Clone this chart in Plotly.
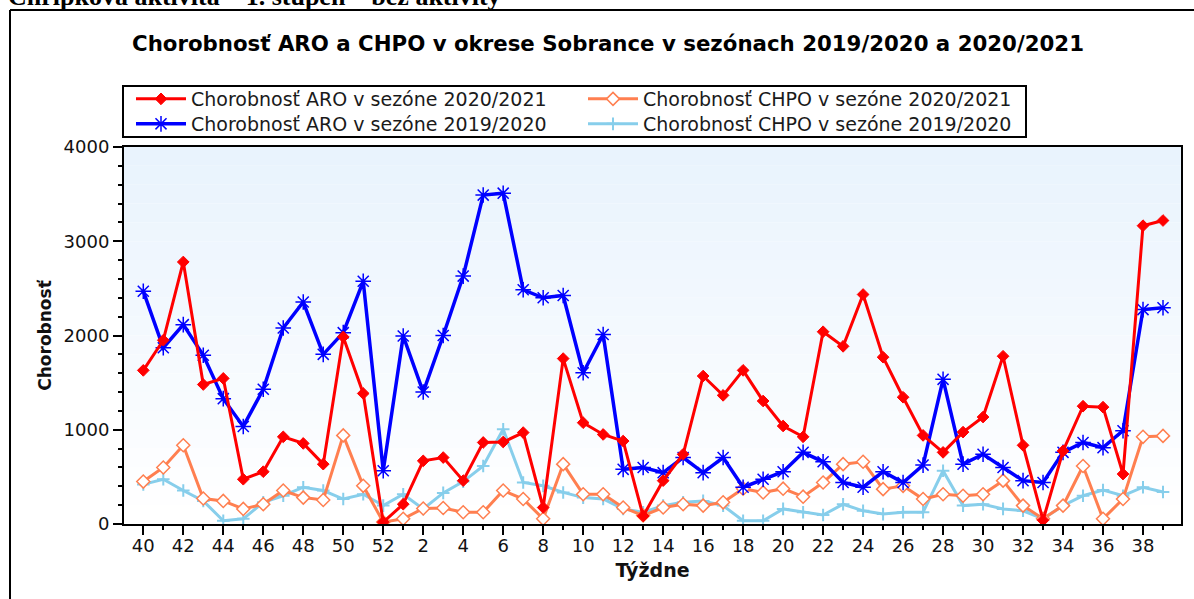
import plotly.graph_objects as go

weeks = [40, 41, 42, 43, 44, 45, 46, 47, 48, 49, 50, 51, 52] + list(range(1, 40))
tick_labels = [str(w) for w in weeks[0::2]]

aro_2020_2021 = [1630, 1950, 2780, 1480, 1545, 475, 555, 925, 855, 635, 1985, 1385, 20,
                 210, 670, 705, 460, 865, 870, 970, 175, 1755, 1075, 950, 880, 85, 460, 740,
                 1570, 1365, 1630, 1305, 1040, 925, 2040, 1885, 2435, 1770, 1345, 940, 760,
                 975, 1135, 1780, 835, 40, 775, 1250, 1240, 530, 3165, 3220]
aro_2019_2020 = [2470, 1870, 2115, 1790, 1330, 1035, 1430, 2080, 2355, 1800, 2030, 2575, 565,
                 1995, 1400, 2000, 2630, 3490, 3510, 2485, 2400, 2425, 1605, 2010, 580, 600, 545,
                 705, 545, 705, 390, 475, 555, 760, 660, 440, 390, 555, 440, 625, 1535, 635, 740,
                 600, 460, 440, 760, 865, 810, 990, 2275, 2295]
chpo_2020_2021 = [450, 600, 835, 270, 245, 160, 210, 355, 280, 255, 940, 405, 20,
                  55, 165, 170, 125, 125, 355, 265, 55, 635, 315, 315, 175, 90, 175, 210, 195,
                  230, 375, 335, 375, 290, 440, 635, 660, 370, 405, 265, 315, 300, 315, 460, 195,
                  55, 195, 615, 55, 265, 925, 935]
chpo_2019_2020 = [420, 475, 355, 245, 35, 55, 230, 300, 390, 355, 265, 315, 195,
                  315, 160, 330, 450, 615, 1005, 440, 405, 335, 280, 265, 160, 125, 195, 230, 245,
                  195, 35, 35, 160, 125, 95, 210, 140, 105, 125, 125, 565, 195, 210, 160, 140, 55,
                  195, 300, 360, 300, 390, 340]

pos = list(range(len(weeks)))
FONT = "DejaVu Sans"
W, H = 1194, 599
ML, MR, MT, MB = 124, 13, 147, 75
PW, PH = W - ML - MR, H - MT - MB


def px_x(px):
    return (px - ML) / PW


def px_y(py):
    return (H - MB - py) / PH


fig = go.Figure()

fig.add_trace(go.Scatter(
    x=pos, y=chpo_2019_2020, mode="lines+markers", name="Chorobnosť CHPO v sezóne 2019/2020",
    line=dict(color="#87ceeb", width=3),
    marker=dict(symbol="cross-thin-open", size=9, color="#87ceeb", line=dict(color="#87ceeb", width=2)),
    legend="legend2", legendrank=2))
fig.add_trace(go.Scatter(
    x=pos, y=chpo_2020_2021, mode="lines+markers", name="Chorobnosť CHPO v sezóne 2020/2021",
    line=dict(color="#ff7f50", width=3),
    marker=dict(symbol="diamond", size=10, color="white", line=dict(color="#ff7f50", width=1.5)),
    legend="legend", legendrank=2))
fig.add_trace(go.Scatter(
    x=pos, y=aro_2019_2020, mode="lines+markers", name="Chorobnosť ARO v sezóne 2019/2020",
    line=dict(color="#0000ff", width=3.5),
    marker=dict(symbol="asterisk-open", size=13, color="#0000ff", line=dict(color="#0000ff", width=1.5)),
    legend="legend2", legendrank=1))
fig.add_trace(go.Scatter(
    x=pos, y=aro_2020_2021, mode="lines+markers", name="Chorobnosť ARO v sezóne 2020/2021",
    line=dict(color="#ff0000", width=3),
    marker=dict(symbol="diamond", size=9, color="#ff0000", line=dict(color="#ff0000", width=1)),
    legend="legend", legendrank=1))

# background gradient bands
shapes = []
n = 20
top = (233, 243, 253)
for i in range(n):
    t = i / (n - 1)
    c = tuple(int(round(top[k] + (255 - top[k]) * t)) for k in range(3))
    shapes.append(dict(type="rect", xref="x domain", yref="y domain",
                       x0=0, x1=1, y0=1 - (i + 1) / n, y1=1 - i / n,
                       fillcolor="rgb(%d,%d,%d)" % c, line=dict(width=0), layer="below"))
# outer frame (top and left)
shapes.append(dict(type="line", xref="paper", yref="paper",
                   x0=px_x(10), x1=px_x(1194), y0=px_y(10), y1=px_y(10),
                   line=dict(color="black", width=2)))
shapes.append(dict(type="line", xref="paper", yref="paper",
                   x0=px_x(10), x1=px_x(10), y0=px_y(10), y1=px_y(600),
                   line=dict(color="black", width=2)))
# legend frame
shapes.append(dict(type="rect", xref="paper", yref="paper",
                   x0=px_x(123), x1=px_x(1026), y0=px_y(86), y1=px_y(137),
                   line=dict(color="black", width=2), fillcolor="rgba(0,0,0,0)"))

legend_common = dict(orientation="h", xanchor="left", yanchor="middle",
                     bgcolor="rgba(255,255,255,0)", borderwidth=0,
                     font=dict(family=FONT, size=19, color="#1a1a1a"),
                     entrywidth=387, entrywidthmode="pixels", itemwidth=50,
                     traceorder="normal")

fig.update_layout(
    width=W, height=H,
    margin=dict(l=ML, r=MR, t=MT, b=MB, autoexpand=False),
    paper_bgcolor="white", plot_bgcolor="white",
    shapes=shapes,
    title=dict(text="<b>Chorobnosť ARO a CHPO v okrese Sobrance v sezónach 2019/2020 a 2020/2021</b>",
               font=dict(family=FONT, size=21.3, color="#000000"),
               xref="container", x=608 / W, xanchor="center",
               yref="container", y=1 - 44 / H, yanchor="middle"),
    legend=dict(x=px_x(131), y=px_y(99), **legend_common),
    legend2=dict(x=px_x(131), y=px_y(124), **legend_common),
    showlegend=True,
    xaxis=dict(range=[-0.965, 51.9], tickmode="array", tickvals=pos[0::2], ticktext=tick_labels,
               ticks="outside", ticklen=9, tickwidth=2, tickcolor="black", ticklabelstandoff=-5,
               minor=dict(dtick=1, tick0=0, ticks="outside", ticklen=4, tickwidth=2, tickcolor="black"),
               showline=True, linecolor="black", linewidth=2, mirror=True,
               showgrid=False, zeroline=False,
               tickfont=dict(family=FONT, size=18, color="#111111"),
               title=dict(text="<b>Týždne</b>", font=dict(family=FONT, size=19, color="#111111"), standoff=9)),
    xaxis2=dict(overlaying="x", matches="x", anchor="y", side="bottom",
                tickmode="array", tickvals=pos[0::2], ticks="inside", ticklen=6, tickwidth=2, tickcolor="black",
                minor=dict(dtick=1, tick0=0, ticks="inside", ticklen=3, tickwidth=2, tickcolor="black"),
                mirror="allticks", showline=False, showticklabels=False, showgrid=False, zeroline=False),
    yaxis=dict(range=[0, 4000], tickmode="linear", dtick=1000, tick0=0,
               ticks="outside", ticklen=9, tickwidth=2, tickcolor="black",
               minor=dict(dtick=200, ticks="outside", ticklen=4, tickwidth=2, tickcolor="black"),
               showline=True, linecolor="black", linewidth=2, mirror=True,
               showgrid=False, zeroline=False,
               tickfont=dict(family=FONT, size=18, color="#111111"),
               title=dict(text="<b>Chorobnosť</b>", font=dict(family=FONT, size=17, color="#111111"), standoff=8)),
    yaxis2=dict(overlaying="y", matches="y", anchor="x", side="left",
                tickmode="linear", dtick=1000, tick0=0, ticks="inside", ticklen=6, tickwidth=2, tickcolor="black",
                minor=dict(dtick=200, ticks="inside", ticklen=3, tickwidth=2, tickcolor="black"),
                mirror="allticks", showline=False, showticklabels=False, showgrid=False, zeroline=False),
    annotations=[dict(text="<b>Chrípková aktivita – 1. stupeň – bez aktivity</b>",
                      xref="paper", yref="paper", x=px_x(6), y=px_y(-3), xanchor="left", yanchor="middle",
                      showarrow=False, font=dict(family="Liberation Serif", size=26, color="black"))],
)

fig.write_html("out.html", config={"displayModeBar": False},
               post_script="document.body.style.margin='0px';document.body.style.overflow='hidden';")
